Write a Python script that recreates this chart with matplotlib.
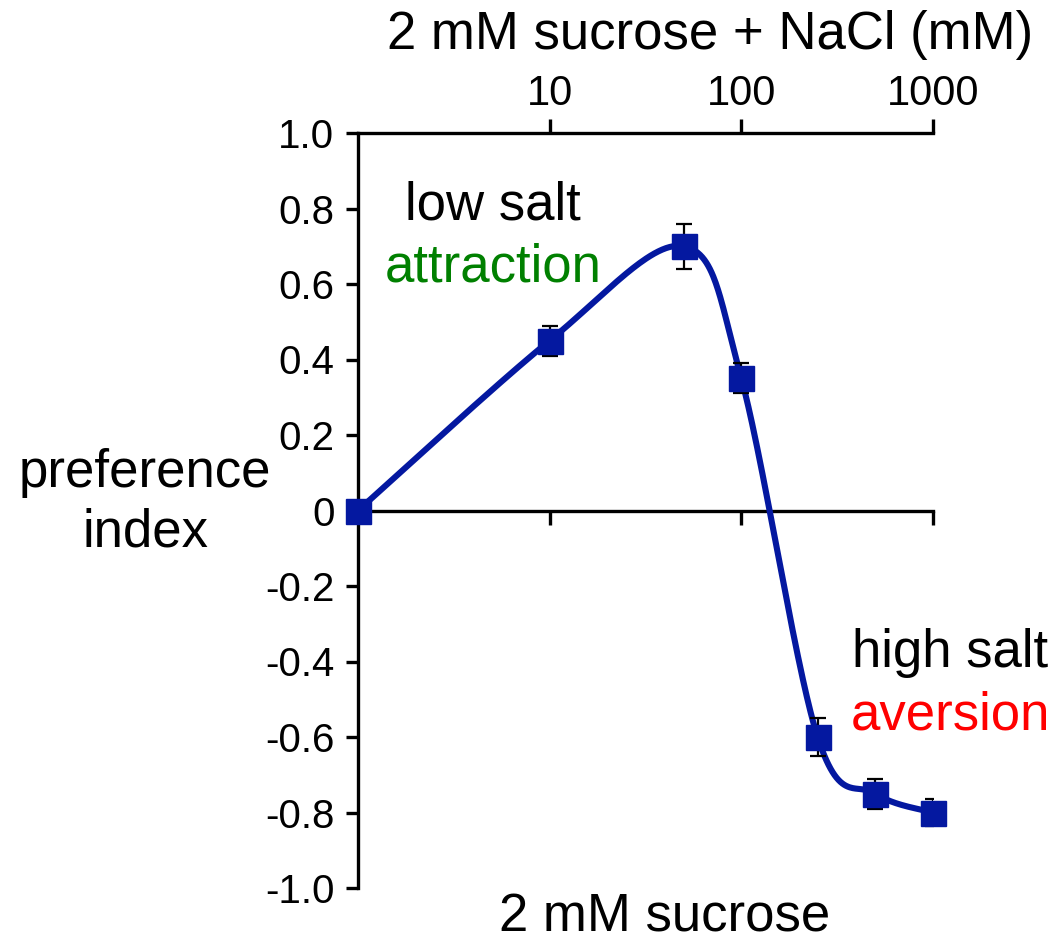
import numpy as np
import matplotlib
matplotlib.use('Agg')
from matplotlib import pyplot as plt
from matplotlib.ticker import FixedLocator, NullLocator

plt.rcParams['font.family'] = ['Liberation Sans', 'DejaVu Sans']

# NaCl concentration (mM); the 0 mM point is drawn at the left edge (1)
nacl = [1, 10, 50, 100, 250, 500, 1000]
pref = [0.0, 0.45, 0.70, 0.35, -0.60, -0.75, -0.80]
err = [0.0, 0.04, 0.06, 0.04, 0.05, 0.04, 0.035]

xticks = [10, 100, 1000]
xticklabels = ['10', '100', '1000']
yticks = [1.0, 0.8, 0.6, 0.4, 0.2, 0.0, -0.2, -0.4, -0.6, -0.8, -1.0]
yticklabels = ['1.0', '0.8', '0.6', '0.4', '0.2', '0', '-0.2', '-0.4', '-0.6', '-0.8', '-1.0']

blue = '#0418a0'
W, H = 1063, 943


def smooth(xs, ys, n=60):
    # Catmull-Rom style smoothing (like a spreadsheet "smoothed line") in screen-like space
    sx, sy = 191.7, 377.5
    p = np.column_stack([np.log10(xs) * sx, np.array(ys) * sy])
    p = np.vstack([p[0], p, p[-1]])
    out = []
    t = np.linspace(0, 1, n)[:, None]
    for i in range(1, len(p) - 2):
        p0, p1, p2, p3 = p[i - 1], p[i], p[i + 1], p[i + 2]
        c1 = p1 + (p2 - p0) / 6
        c2 = p2 - (p3 - p1) / 6
        seg = ((1 - t) ** 3) * p1 + 3 * ((1 - t) ** 2) * t * c1 + 3 * (1 - t) * t ** 2 * c2 + t ** 3 * p2
        out.append(seg)
    out = np.vstack(out)
    return 10 ** (out[:, 0] / sx), out[:, 1] / sy


fig = plt.figure(figsize=(W / 100, H / 100), dpi=100)
ax = fig.add_axes([358 / W, 1 - 888 / H, (933 - 358) / W, (888 - 133) / H])

ax.set_xscale('log')
ax.set_xlim(1, 1000)
ax.set_ylim(-1.0, 1.0)

cx, cy = smooth(nacl, pref)
ax.plot(cx, cy, color=blue, lw=4.4, zorder=3, solid_capstyle='round')
ax.errorbar(nacl[1:], pref[1:], yerr=err[1:], fmt='none', ecolor='black',
            elinewidth=1.6, capsize=6, capthick=1.6, zorder=4)
ax.plot(nacl, pref, 's', color=blue, ms=18, zorder=5, clip_on=False)

ax.spines['right'].set_visible(False)
ax.spines['bottom'].set_position(('data', 0))
for s in ['left', 'top', 'bottom']:
    ax.spines[s].set_linewidth(2.4)

ax.xaxis.set_major_locator(FixedLocator(xticks))
ax.xaxis.set_minor_locator(NullLocator())
ax.set_xticklabels(xticklabels)
ax.tick_params(axis='x', which='major', bottom=True, top=True, labelbottom=False,
               labeltop=True, direction='out', length=10, width=2.4,
               labelsize=30, pad=4)

ax.set_yticks(yticks)
ax.set_yticklabels(yticklabels)
ax.tick_params(axis='y', direction='out', length=9, width=2.4, labelsize=29, pad=8)

big = 38
fig.text(710 / W, 1 - 35 / H, '2 mM sucrose + NaCl (mM)', fontsize=big,
         ha='center', va='center')
fig.text(665 / W, 1 - 918 / H, '2 mM sucrose', fontsize=big, ha='center', va='center')
fig.text(145 / W, 1 - 503 / H, 'preference\nindex', fontsize=big, ha='center',
         va='center', linespacing=1.25)

fig.text(493 / W, 1 - 205 / H, 'low salt', fontsize=big, ha='center', va='center')
fig.text(493 / W, 1 - 268 / H, 'attraction', fontsize=big, ha='center', va='center',
         color='#008000')
fig.text(950 / W, 1 - 653 / H, 'high salt', fontsize=big, ha='center', va='center')
fig.text(950 / W, 1 - 716 / H, 'aversion', fontsize=big, ha='center', va='center',
         color='#ff0000')

fig.savefig('out.png', dpi=100)
